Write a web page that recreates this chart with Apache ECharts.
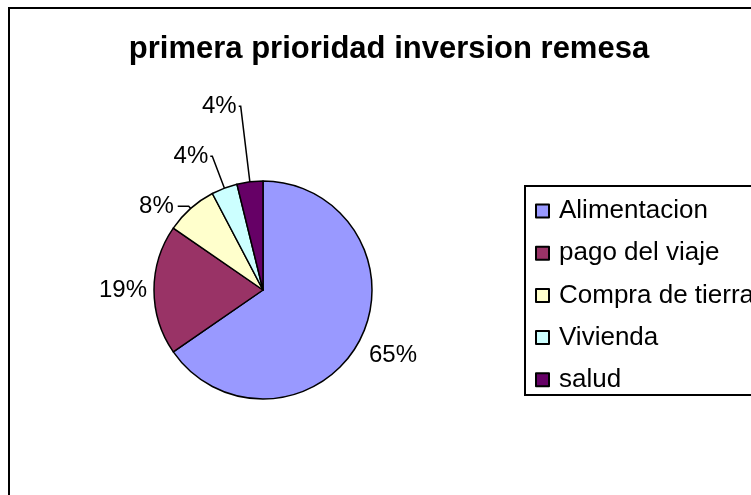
<!DOCTYPE html>
<html>
<head>
<meta charset="utf-8">
<script src="https://cdn.jsdelivr.net/npm/echarts@6/dist/echarts.min.js"></script>
<style>
html, body { margin: 0; padding: 0; background: #fff; }
#chart { width: 751px; height: 495px; }
</style>
</head>
<body>
<div id="chart"></div>
<script>
const chartTitle = 'primera prioridad inversion remesa';
const categories = ['Alimentacion', 'pago del viaje', 'Compra de tierra', 'Vivienda', 'salud'];
const counts = [17, 5, 2, 1, 1];
const sliceColors = ['#9999FF', '#993366', '#FFFFCC', '#CCFFFF', '#660066'];

// per slice label placement: first line length, second line length, gap to text, line visible
const labelSetup = [
  { len: 31, len2: -18, gap: 0, line: false },
  { len: 2, len2: 0, gap: 5, line: false },
  { len: 3, len2: 11, gap: 4, line: true },
  { len: 34, len2: 2, gap: 2, line: true },
  { len: 76, len2: 2, gap: 2, line: true }
];

const font = 'Liberation Sans, Arial, sans-serif';

let pieData = categories.map(function (name, i) {
  let s = labelSetup[i];
  return {
    name: name,
    value: counts[i],
    itemStyle: { color: sliceColors[i] },
    label: { distanceToLabelLine: s.gap },
    labelLine: { show: s.line, length: s.len, length2: s.len2 }
  };
});

let myChart = echarts.init(document.getElementById('chart'));
let option = {
  animation: false,
  backgroundColor: '#fff',
  title: {
    text: chartTitle,
    left: 384,
    top: 29,
    textAlign: 'center',
    textStyle: { fontFamily: font, fontWeight: 'bold', fontSize: 31, color: '#000' }
  },
  legend: {
    orient: 'vertical',
    left: 535,
    top: 198,
    padding: 0,
    itemGap: 16.2,
    itemWidth: 13,
    itemHeight: 13,
    icon: 'rect',
    data: categories,
    textStyle: { fontFamily: font, fontSize: 26, lineHeight: 26, color: '#000', padding: [0, 0, 0, 5] }
  },
  graphic: [
    {
      type: 'rect',
      shape: { x: 9, y: 8, width: 900, height: 600 },
      style: { fill: null, stroke: '#000', lineWidth: 2 }
    },
    {
      type: 'rect',
      shape: { x: 525, y: 186, width: 400, height: 209 },
      style: { fill: null, stroke: '#000', lineWidth: 2 }
    }
  ],
  series: [
    {
      type: 'pie',
      center: [263, 290],
      radius: 109,
      startAngle: 90,
      clockwise: true,
      avoidLabelOverlap: false,
      itemStyle: { borderColor: '#000', borderWidth: 1.5 },
      label: {
        show: true,
        position: 'outside',
        fontFamily: font,
        fontSize: 24,
        color: '#000',
        formatter: function (p) { return Math.round(p.percent) + '%'; }
      },
      labelLine: {
        lineStyle: { color: '#000', width: 1.5 }
      },
      emphasis: { disabled: true },
      data: pieData
    }
  ]
};
myChart.setOption(option);
</script>
</body>
</html>
